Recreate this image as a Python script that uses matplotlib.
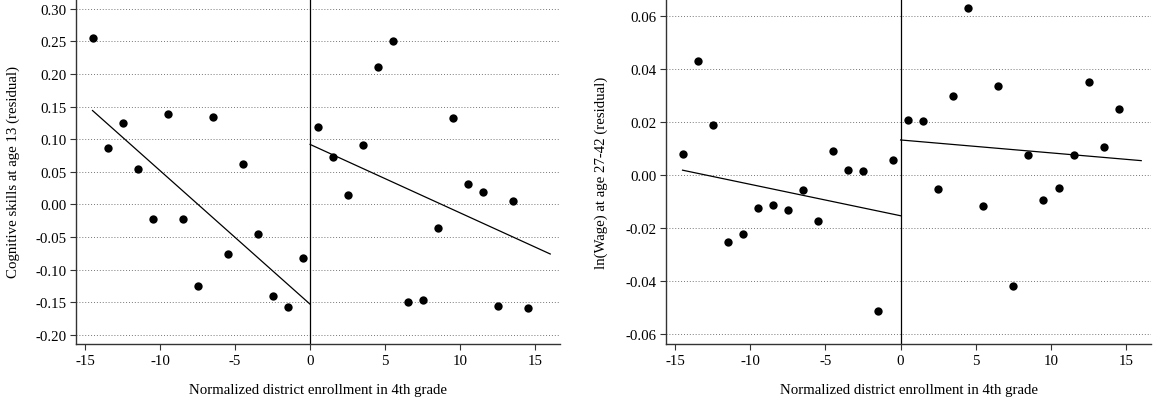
import matplotlib
matplotlib.use('Agg')
import matplotlib.pyplot as plt

plt.rcParams['font.family'] = 'Liberation Serif'
plt.rcParams['axes.unicode_minus'] = False

# bins of normalized enrollment (bin midpoints)
x_left = [-14.5, -13.5, -12.5, -11.5, -10.5, -9.5, -8.5, -7.5, -6.5, -5.5, -4.5, -3.5, -2.5, -1.5, -0.5]
x_right = [0.5, 1.5, 2.5, 3.5, 4.5, 5.5, 6.5, 7.5, 8.5, 9.5, 10.5, 11.5, 12.5, 13.5, 14.5]

# panel A: cognitive skills at age 13
cog_left = [0.255, 0.086, 0.125, 0.055, -0.023, 0.139, -0.023, -0.125, 0.134, -0.076, 0.062, -0.046, -0.140, -0.158, -0.082]
cog_right = [0.119, 0.072, 0.014, 0.091, 0.211, 0.250, -0.149, -0.146, -0.036, 0.132, 0.032, 0.019, -0.155, 0.005, -0.159]
cog_fit_left_x = [-14.5, 0]
cog_fit_left_y = [0.144, -0.153]
cog_fit_right_x = [0, 16]
cog_fit_right_y = [0.092, -0.076]

# panel B: ln(wage) at age 27-42
wage_left = [0.0079, 0.0430, 0.0189, -0.0251, -0.0221, -0.0123, -0.0113, -0.0132, -0.0057, -0.0173, 0.0091, 0.0019, 0.0017, -0.0511, 0.0057]
wage_right = [0.0210, 0.0204, -0.0053, 0.0299, 0.0631, -0.0117, 0.0337, -0.0417, 0.0075, -0.0092, -0.0048, 0.0075, 0.0351, 0.0106, 0.0251]
wage_fit_left_x = [-14.5, 0]
wage_fit_left_y = [0.0019, -0.0153]
wage_fit_right_x = [0, 16]
wage_fit_right_y = [0.0133, 0.0055]

cog_ticks = [-0.20, -0.15, -0.10, -0.05, 0.00, 0.05, 0.10, 0.15, 0.20, 0.25, 0.30]
wage_ticks = [-0.06, -0.04, -0.02, 0.00, 0.02, 0.04, 0.06]
x_ticks = [-15, -10, -5, 0, 5, 10, 15]

fig = plt.figure(figsize=(11.64, 4.10), dpi=100)
ax1 = fig.add_axes([76 / 1164, 65 / 410, 484 / 1164, 345 / 410])
ax2 = fig.add_axes([666 / 1164, 65 / 410, 485 / 1164, 345 / 410])


def draw_panel(ax, yl, yr, fx1, fy1, fx2, fy2, yticks, ylim, ylabel, pad):
    ax.scatter(x_left + x_right, yl + yr, s=36, color='black', zorder=3, linewidths=0)
    ax.plot(fx1, fy1, color='black', lw=0.9)
    ax.plot(fx2, fy2, color='black', lw=0.9)
    ax.axvline(0, color='black', lw=0.9)
    ax.set_xlim(-15.6, 16.65)
    ax.set_ylim(*ylim)
    ax.set_yticks(yticks)
    ax.set_yticklabels(['%.2f' % t for t in yticks])
    ax.set_xticks(x_ticks)
    for t in yticks:
        ax.axhline(t, color='#777777', lw=0.7, ls=(0, (1, 2)), zorder=1)
    for s in ['top', 'right']:
        ax.spines[s].set_visible(False)
    for s in ['left', 'bottom']:
        ax.spines[s].set_color('#333333')
        ax.spines[s].set_linewidth(1.0)
    ax.tick_params(labelsize=10.75, length=4, width=0.8, color='#333333', pad=3)
    ax.set_xlabel('Normalized district enrollment in 4th grade', fontsize=10.75, labelpad=12)
    ax.set_ylabel(ylabel, fontsize=10.75, labelpad=pad)


draw_panel(ax1, cog_left, cog_right, cog_fit_left_x, cog_fit_left_y,
           cog_fit_right_x, cog_fit_right_y, cog_ticks, (-0.214, 0.315),
           'Cognitive skills at age 13 (residual)', 11)
draw_panel(ax2, wage_left, wage_right, wage_fit_left_x, wage_fit_left_y,
           wage_fit_right_x, wage_fit_right_y, wage_ticks, (-0.0637, 0.0665),
           'ln(Wage) at age 27-42 (residual)', 12)

fig.savefig('out.png', dpi=100)
